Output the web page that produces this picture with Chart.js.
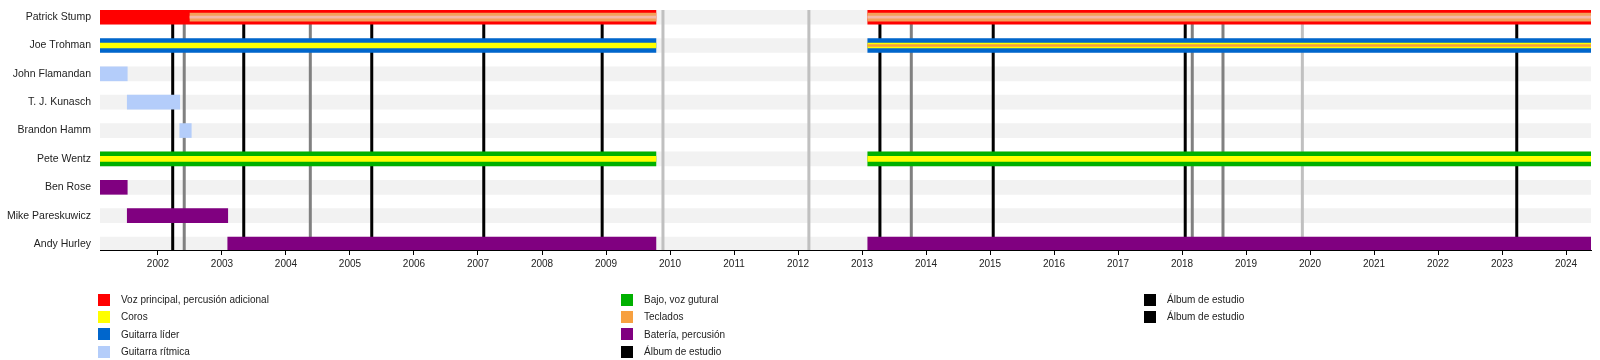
<!DOCTYPE html>
<html lang="es">
<head>
<meta charset="utf-8">
<script src="https://cdn.jsdelivr.net/npm/chart.js@4"></script>
<style>
  body { margin:0; background:#fff; font-family:"Liberation Sans", Arial, sans-serif; }
  #wrap { position:relative; width:1600px; height:360px; }
  #legend { position:absolute; left:0; top:0; width:1600px; height:360px; pointer-events:none; }
  .col { position:absolute; top:291px; }
  .item { height:17.3px; display:flex; align-items:center; font-size:10px; color:#222; white-space:nowrap; }
  .sw { width:12px; height:12px; margin-right:11px; flex:none; }
</style>
</head>
<body>
<div id="wrap">
  <canvas id="chart" width="1600" height="360"></canvas>
  <div id="legend"></div>
</div>
<script>
// ------------------- Data -------------------
const members = ["Patrick Stump","Joe Trohman","John Flamandan","T. J. Kunasch","Brandon Hamm",
                 "Pete Wentz","Ben Rose","Mike Pareskuwicz","Andy Hurley"];
const years = [2002,2003,2004,2005,2006,2007,2008,2009,2010,2011,2012,2013,
               2014,2015,2016,2017,2018,2019,2020,2021,2022,2023,2024];

const START = 2001.094;
const END = 2024.39;
const HIATUS_START = 2009.78;
const HIATUS_END = 2013.09;

// [member index, from, to]
const vocals      = [[0, START, HIATUS_START], [0, HIATUS_END, END]];
const keysStump   = [[0, 2002.5, HIATUS_START], [0, HIATUS_END, END]];
const keysTrohman = [[1, HIATUS_END, END]];
const leadGuitar  = [[1, START, HIATUS_START], [1, HIATUS_END, END]];
const backing     = [[1, START, HIATUS_START], [1, HIATUS_END, END], [5, START, HIATUS_START], [5, HIATUS_END, END]];
const rhythm      = [[2, START, 2001.52], [3, 2001.52, 2002.34], [4, 2002.34, 2002.52]];
const bass        = [[5, START, HIATUS_START], [5, HIATUS_END, END]];
const drums       = [[6, START, 2001.52], [7, 2001.52, 2003.09], [8, 2003.09, HIATUS_START], [8, HIATUS_END, END]];

const albums   = [2002.23, 2003.34, 2005.34, 2007.09, 2008.94, 2013.28, 2015.05, 2018.05, 2023.23];
const otherRel = [2002.41, 2004.38, 2013.77, 2018.16, 2018.64];
const liveRel  = [2009.89, 2012.17, 2019.88];

const legendCols = [
  [["Voz principal, percusión adicional","#ff0000"],["Coros","#ffff00"],["Guitarra líder","#0066cc"],["Guitarra rítmica","#b4cdfa"]],
  [["Bajo, voz gutural","#00b000"],["Teclados","#f7a040"],["Batería, percusión","#800080"],["Álbum de estudio","#000000"]],
  [["Álbum de estudio","#000000"],["Álbum de estudio","#000000"]]
];
const legendX = [98, 621, 1144];

const Y_MIN = -0.25;
const Y_MAX = 8.21;

// ------------------- Helpers -------------------
function bars(label, spans, color, thickness, order){
  return {
    type:'bar', label, indexAxis:'y', grouped:false, order,
    data: spans.map(s=>({x:[s[1], s[2]], y:s[0]})),
    backgroundColor: color, borderWidth:0, barThickness: thickness
  };
}

function vlines(label, dates, color){
  const pts = [];
  dates.forEach(d=>{
    pts.push({x:d, y:Y_MIN}, {x:d, y:Y_MAX}, {x:d, y:null});
  });
  return {
    type:'line', label, data:pts, borderColor:color, borderWidth:3,
    pointRadius:0, spanGaps:false, fill:false, order:5, clip:0
  };
}

// ------------------- Chart -------------------
const datasets = [
  bars("fondo", members.map((m,i)=>[i, START, END]), "#f2f2f2", 14, 10),
  vlines("Álbum de estudio", albums, "#000000"),
  vlines("Álbum de estudio", otherRel, "#808080"),
  vlines("Álbum de estudio", liveRel, "#c0c0c0"),
  bars("Voz principal, percusión adicional", vocals, "#ff0000", 14, 3),
  bars("Guitarra líder", leadGuitar, "#0066cc", 14, 3),
  bars("Guitarra rítmica", rhythm, "#b4cdfa", 14, 3),
  bars("Bajo, voz gutural", bass, "#00b000", 14, 3),
  bars("Batería, percusión", drums, "#800080", 14, 3),
  bars("Teclados", keysStump, "#f4a05a", 8, 2),
  bars("Coros", backing, "#ffff00", 5, 2),
  bars("Teclados", keysStump, "#f4b8a8", 2, 1),
  bars("Teclados", keysTrohman, "#f7a040", 2, 1)
];

new Chart(document.getElementById("chart"), {
  type:'bar',
  data:{ datasets },
  options:{
    responsive:false,
    animation:false,
    layout:{ padding:{ top:10, right:9, bottom:80, left:0 } },
    plugins:{ legend:{ display:false }, tooltip:{ enabled:false } },
    scales:{
      x:{
        type:'linear', min:START, max:END, offset:false,
        afterBuildTicks: s=>{ s.ticks = years.map(v=>({value:v})); },
        afterFit: s=>{ s.height = 30; s.paddingLeft = 0; s.paddingRight = 0; },
        ticks:{ autoSkip:false, maxRotation:0, padding:3, color:'#222',
                font:{ family:'"Liberation Sans", Arial, sans-serif', size:10 },
                callback: v=>String(v) },
        grid:{ offset:false, drawOnChartArea:false, drawTicks:true, tickLength:5, color:'#000', lineWidth:1 },
        border:{ display:true, color:'#000', width:1 }
      },
      y:{
        type:'linear', reverse:true, min:Y_MIN, max:Y_MAX, offset:false,
        afterBuildTicks: s=>{ s.ticks = members.map((m,i)=>({value:i})); },
        afterFit: s=>{ s.width = 100; s.paddingTop = 0; s.paddingBottom = 0; },
        ticks:{ autoSkip:false, padding:9, color:'#222',
                font:{ family:'"Liberation Sans", Arial, sans-serif', size:10.5 },
                callback: v=>members[v] },
        grid:{ offset:false, display:false, drawTicks:false },
        border:{ display:false }
      }
    }
  }
});

// ------------------- Legend -------------------
const legend = document.getElementById("legend");
legendCols.forEach((col, c)=>{
  const div = document.createElement("div");
  div.className = "col";
  div.style.left = legendX[c] + "px";
  div.innerHTML = col.map(([t, color])=>
    `<div class="item"><span class="sw" style="background:${color}"></span>${t}</div>`).join('');
  legend.appendChild(div);
});
</script>
</body>
</html>
